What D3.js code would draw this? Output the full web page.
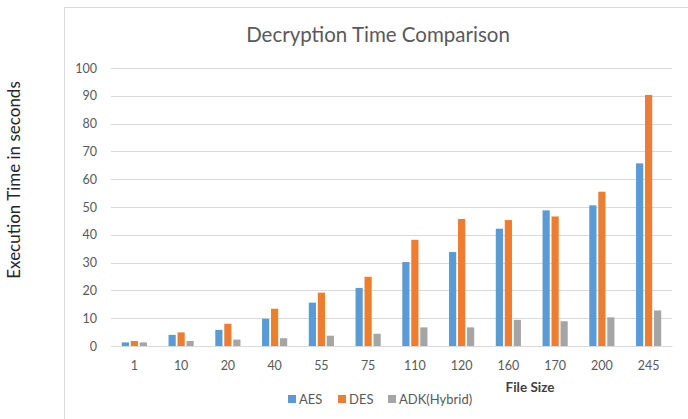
<!DOCTYPE html>
<html><head><meta charset="utf-8">
<script src="https://cdn.jsdelivr.net/npm/d3@7"></script>
<style>body{margin:0;background:#fff}svg{display:block}text{font-family:Lato,"Open Sans",sans-serif}</style>
</head><body>
<svg id="c" width="688" height="419"></svg>
<script>
const categories = ["1","10","20","40","55","75","110","120","160","170","200","245"];
const seriesNames = ["AES","DES","ADK(Hybrid)"];
const aes = [1.3,4.0,5.8,9.8,15.6,20.9,30.2,33.8,42.2,48.8,50.6,65.7];
const des = [1.8,4.9,8.0,13.4,19.2,24.9,38.2,45.7,45.3,46.6,55.5,90.3];
const adk = [1.3,1.8,2.3,2.8,3.7,4.4,6.7,6.7,9.4,8.9,10.3,12.8];
const yTicks = [0,10,20,30,40,50,60,70,80,90,100];
const colors = ["#5B9BD5","#ED7D31","#A5A5A5"];

const svg = d3.select("#c");
// chart frame
svg.append("rect").attr("x",64.5).attr("y",7.5).attr("width",700).attr("height",500)
  .attr("fill","none").attr("stroke","#d9d9d9");

const x = d3.scaleBand().domain(categories).range([111,672]);
const xs = d3.scaleBand().domain(seriesNames).range([0,x.bandwidth()]).paddingInner(0.2).paddingOuter(1.2);
const y = d3.scaleLinear().domain([0,100]).range([346,68]);

// gridlines
svg.append("g").selectAll("line").data(yTicks).join("line")
  .attr("x1",111).attr("x2",672).attr("y1",d=>Math.round(y(d))+0.5).attr("y2",d=>Math.round(y(d))+0.5)
  .attr("stroke","#d9d9d9").attr("stroke-width",1);

// y axis
const ya = svg.append("g").attr("transform","translate(97,0)")
  .call(d3.axisLeft(y).tickValues(yTicks).tickSize(0).tickPadding(0));
ya.select(".domain").remove();
ya.selectAll("text").attr("fill","#595959").style("font-size","12.5px").style("font-family","Lato,sans-serif");

// bars
const data = [aes,des,adk];
const g = svg.append("g");
categories.forEach((c,i)=>{
  seriesNames.forEach((s,j)=>{
    g.append("rect").attr("x",x(c)+xs(s)).attr("width",xs.bandwidth())
      .attr("y",y(data[j][i])).attr("height",y(0)-y(data[j][i])).attr("fill",colors[j]);
  });
});

// x axis
const xa = svg.append("g").attr("transform","translate(0,346)")
  .call(d3.axisBottom(x).tickSize(0).tickPadding(15));
xa.select(".domain").attr("stroke","#d9d9d9");
xa.selectAll("text").attr("fill","#595959").style("font-size","12.5px").style("font-family","Lato,sans-serif");

// title
svg.append("text").attr("x",378).attr("y",42).attr("text-anchor","middle")
  .attr("fill","#595959").style("font-size","20.5px").text("Decryption Time Comparison");

// axis titles
svg.append("text").attr("transform","translate(20,180) rotate(-90)").attr("text-anchor","middle")
  .attr("fill","#262626").style("font-size","17px").text("Execution Time in seconds");
svg.append("text").attr("x",530).attr("y",392).attr("text-anchor","middle")
  .attr("fill","#404040").style("font-size","13.5px").style("font-weight","bold").text("File Size");

// legend
const legX = [288,338,388];
seriesNames.forEach((s,j)=>{
  svg.append("rect").attr("x",legX[j]).attr("y",395).attr("width",8).attr("height",8).attr("fill",colors[j]);
  svg.append("text").attr("x",legX[j]+11).attr("y",404).attr("fill","#595959")
    .style("font-size","13px").text(s);
});
</script>
</body></html>
